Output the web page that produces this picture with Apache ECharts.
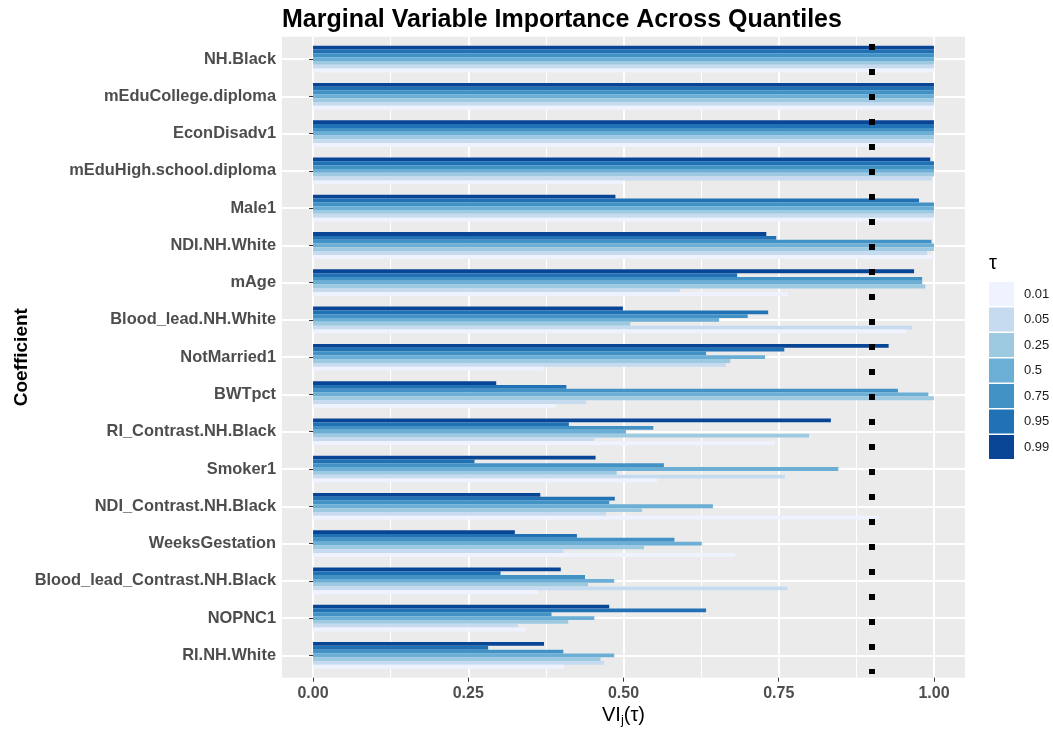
<!DOCTYPE html>
<html><head><meta charset="utf-8">
<script src="https://cdn.jsdelivr.net/npm/echarts@6/dist/echarts.min.js"></script>
<style>html,body{margin:0;padding:0;background:#fff}#c{width:1053px;height:731px}</style>
</head><body><div id="c"></div>
<script>
// ---- data ----
const categories = ['NH.Black','mEduCollege.diploma','EconDisadv1','mEduHigh.school.diploma','Male1','NDI.NH.White','mAge','Blood_lead.NH.White','NotMarried1','BWTpct','RI_Contrast.NH.Black','Smoker1','NDI_Contrast.NH.Black','WeeksGestation','Blood_lead_Contrast.NH.Black','NOPNC1','RI.NH.White'];
const tauLegend = ['0.01','0.05','0.25','0.5','0.75','0.95','0.99'];
const vi_099 = [1.0, 1.0, 1.0, 0.994, 0.487, 0.730, 0.968, 0.499, 0.927, 0.295, 0.834, 0.455, 0.366, 0.325, 0.399, 0.477, 0.372];
const vi_095 = [1.0, 1.0, 1.0, 1.0, 0.976, 0.746, 0.683, 0.733, 0.759, 0.408, 0.412, 0.260, 0.486, 0.425, 0.302, 0.633, 0.282];
const vi_075 = [1.0, 1.0, 1.0, 1.0, 1.0, 0.996, 0.981, 0.700, 0.633, 0.942, 0.548, 0.565, 0.477, 0.582, 0.438, 0.384, 0.403];
const vi_050 = [1.0, 1.0, 1.0, 1.0, 1.0, 1.0, 0.981, 0.654, 0.728, 0.991, 0.504, 0.846, 0.644, 0.626, 0.485, 0.453, 0.485];
const vi_025 = [1.0, 1.0, 1.0, 1.0, 1.0, 1.0, 0.986, 0.511, 0.672, 1.0, 0.799, 0.489, 0.530, 0.533, 0.443, 0.411, 0.463];
const vi_005 = [1.0, 1.0, 1.0, 0.997, 1.0, 0.989, 0.591, 0.965, 0.665, 0.440, 0.453, 0.760, 0.472, 0.403, 0.764, 0.330, 0.469];
const vi_001 = [1.0, 1.0, 1.0, 0.499, 1.0, 1.0, 0.765, 0.955, 0.371, 0.392, 0.744, 0.554, 0.912, 0.680, 0.363, 0.343, 0.404];
const threshold = 0.9;

// ---- styling ----
const seriesDefs = [
  {name: '0.99', data: vi_099, color: '#084594'},
  {name: '0.95', data: vi_095, color: '#2171b5'},
  {name: '0.75', data: vi_075, color: '#4292c6'},
  {name: '0.5',  data: vi_050, color: '#6baed6'},
  {name: '0.25', data: vi_025, color: '#9ecae1'},
  {name: '0.05', data: vi_005, color: '#c6dbef'},
  {name: '0.01', data: vi_001, color: '#eff3ff'}
];
const FONT = '"Liberation Sans", Arial, Helvetica, sans-serif';
const W = 1053, H = 731;
const PL = 282, PR = 965, PT = 36.7, PB = 677.7;
const xMinE = -0.05, xMaxE = 1.05;
const pw = PR - PL;
const x0 = PL + pw * (0 - xMinE) / (xMaxE - xMinE);
const x1 = PL + pw * (1 - xMinE) / (xMaxE - xMinE);
const band = (PB - PT) / (categories.length - 1 + 1.2);
const gTop = PT + 0.1 * band, gBot = PB - 0.1 * band;

const chart = echarts.init(document.getElementById('c'), null, {renderer: 'canvas'});
const series = seriesDefs.map((s, i) => ({
  type: 'bar', name: s.name, data: s.data,
  xAxisIndex: 2, yAxisIndex: 2,
  barCategoryGap: '28.5%', barGap: '0%',
  itemStyle: {color: s.color},
  z: 3,
  silent: true,
  markLine: i === 0 ? {
    silent: true, symbol: 'none', label: {show: false},
    lineStyle: {color: '#000', width: 6, type: [6, 19], dashOffset: 21.4, cap: 'butt'},
    data: [{xAxis: threshold}]
  } : undefined
}));

chart.setOption({
  animation: false,
  backgroundColor: '#fff',
  textStyle: {fontFamily: FONT},
  title: {
    text: 'Marginal Variable Importance Across Quantiles',
    left: PL, top: 8, padding: 0,
    textStyle: {fontFamily: FONT, fontSize: 25, fontWeight: 'bold', color: '#000'}
  },
  legend: {
    orient: 'vertical', left: 989, top: 282, padding: 0,
    itemWidth: 25, itemHeight: 24, itemGap: 1.5,
    icon: 'rect',
    data: tauLegend,
    textStyle: {fontFamily: FONT, fontSize: 13, color: '#1a1a1a', padding: [2, 0, 0, 5]},
    selectedMode: false
  },
  graphic: [{
    type: 'text', left: 989, top: 253,
    style: {text: 'τ', font: '20px ' + FONT, fill: '#000'}
  }],
  grid: [
    {left: PL, right: W - PR, top: PT, bottom: H - PB, show: true, backgroundColor: '#ebebeb', borderWidth: 0, z: 0, containLabel: false, outerBoundsMode: 'none'},
    {left: x0, right: W - x1, top: PT, bottom: H - PB, z: 1, containLabel: false, outerBoundsMode: 'none'},
    {left: PL, right: W - PR, top: gTop, bottom: H - gBot, z: 1, containLabel: false, outerBoundsMode: 'none'}
  ],
  xAxis: [
    {gridIndex: 0, type: 'value', min: 0, max: 1, show: false},
    {gridIndex: 1, type: 'value', min: 0, max: 1, interval: 0.25, z: 1,
     axisLine: {show: false},
     axisTick: {show: true, length: 4, lineStyle: {color: '#333', width: 1}},
     axisLabel: {margin: 8, fontFamily: FONT, fontSize: 16, fontWeight: 'bold', color: '#4d4d4d',
                 formatter: v => v.toFixed(2)},
     splitLine: {show: true, lineStyle: {color: '#fff', width: 2}},
     minorTick: {show: false, splitNumber: 2},
     minorSplitLine: {show: true, lineStyle: {color: '#fff', width: 1}},
     name: '{a|VI}{s|j}{a|(τ)}', nameLocation: 'middle', nameGap: 27, nameMoveOverlap: false,
     nameTextStyle: {rich: {
       a: {fontFamily: FONT, fontSize: 20, color: '#000'},
       s: {fontFamily: FONT, fontSize: 13, color: '#000', padding: [9, 0, 0, 0]}
     }}
    },
    {gridIndex: 2, type: 'value', min: xMinE, max: xMaxE, show: false}
  ],
  yAxis: [
    {gridIndex: 0, type: 'value', show: false},
    {gridIndex: 1, type: 'value', show: false},
    {gridIndex: 2, type: 'category', data: categories, inverse: true, z: 1,
     axisLine: {show: false},
     axisTick: {show: true, alignWithLabel: true, interval: 0, length: 4, lineStyle: {color: '#333', width: 1}},
     axisLabel: {interval: 0, margin: 6, fontFamily: FONT, fontSize: 16.4, fontWeight: 'bold', color: '#4d4d4d'},
     splitLine: {show: true, interval: 0, alignWithLabel: true, lineStyle: {color: '#fff', width: 2}},
     name: 'Coefficient', nameLocation: 'middle', nameRotate: 90, nameGap: 251, nameMoveOverlap: false,
     nameTextStyle: {fontFamily: FONT, fontSize: 19, fontWeight: 'bold', color: '#000'}
    }
  ],
  series: series
});
</script></body></html>
